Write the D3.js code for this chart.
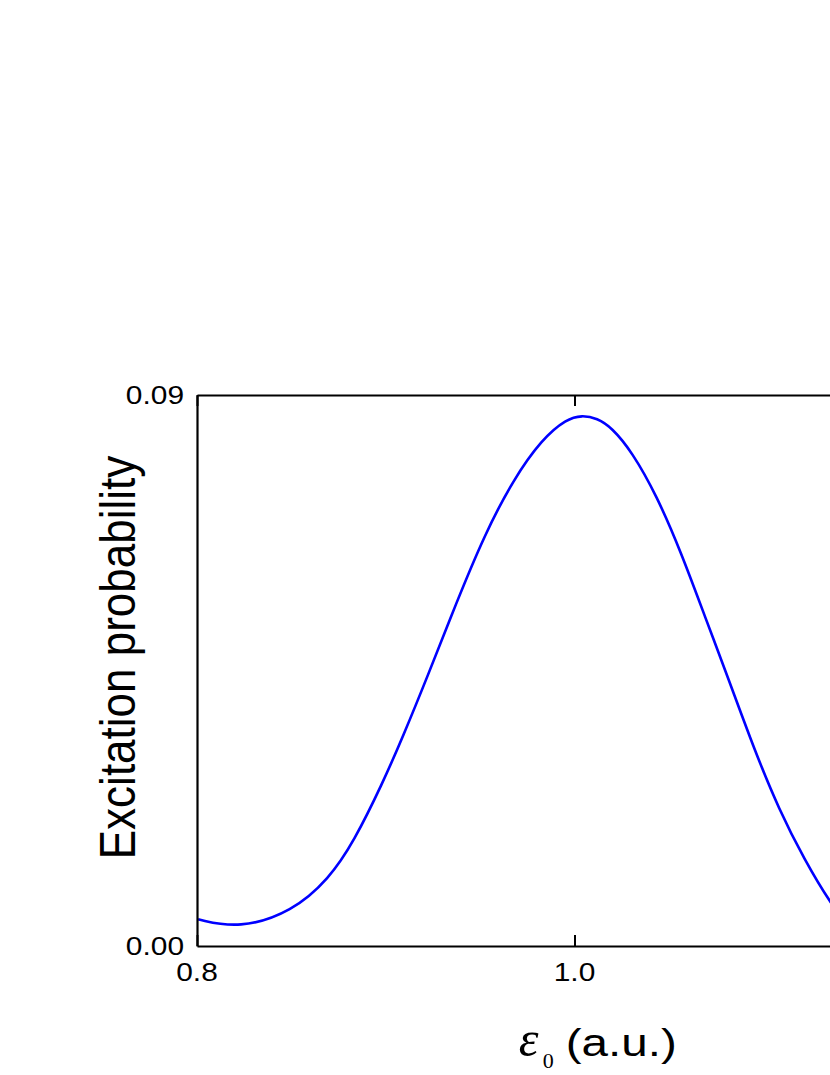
<!DOCTYPE html>
<html>
<head>
<meta charset="utf-8">
<script src="https://cdn.jsdelivr.net/npm/d3@7"></script>
<style>
  body { margin: 0; background: #fff; }
  svg { display: block; }
</style>
</head>
<body>
<svg id="chart"></svg>
<script>
// field amplitude (a.u.) and excitation probability
const energy = [0.8006, 0.8223, 0.8505, 0.8700, 0.8830, 0.8982, 0.9091, 0.9221, 0.9373, 0.9525,
  0.9676, 0.9828, 0.9958, 1.0040, 1.0120, 1.0197, 1.0305, 1.0435, 1.0565, 1.0696, 1.0815,
  1.0956, 1.1085, 1.1216, 1.1363, 1.1450];
const prob = [0.00436, 0.00280, 0.00560, 0.0110, 0.0170, 0.0265, 0.0342, 0.0440, 0.0560, 0.0673,
  0.0762, 0.0828, 0.0861, 0.0867, 0.0862, 0.0847, 0.0807, 0.0736, 0.0643, 0.0534, 0.0437,
  0.0318, 0.0222, 0.0142, 0.0066, 0.0035];
const xTicks = [0.8, 1.0, 1.2];
const xLabels = [0.8, 1.0];
const yTicks = [0.00, 0.09];

const width = 830;
const height = 1075;
const margin = { top: 395, right: -122, bottom: 129, left: 197 };
const chartWidth = width - margin.left - margin.right;
const chartHeight = height - margin.top - margin.bottom;

const svg = d3.select('#chart').attr('width', width).attr('height', height);

const x = d3.scaleLinear().domain([0.8, 1.2]).range([0, chartWidth]);
const y = d3.scaleLinear().domain([0, 0.09]).range([chartHeight, 0]);

const g = svg.append('g').attr('transform', `translate(${margin.left},${margin.top})`);

g.append('clipPath').attr('id', 'clip')
  .append('rect').attr('width', chartWidth).attr('height', chartHeight);

// curve
g.append('path')
  .datum(energy.map((e, i) => [e, prob[i]]))
  .attr('clip-path', 'url(#clip)')
  .attr('fill', 'none')
  .attr('stroke', '#0000ff')
  .attr('stroke-width', 2.6)
  .attr('d', d3.line().x(d => x(d[0])).y(d => y(d[1])).curve(d3.curveBasis));

// inward ticks, labels only on bottom/left
const fmtX = d3.format('.1f');
const fmtY = d3.format('.2f');

g.append('g')
  .attr('transform', `translate(0,${chartHeight})`)
  .call(d3.axisBottom(x).tickValues(xTicks).tickSizeInner(-11).tickSizeOuter(0).tickFormat(''));
g.append('g')
  .call(d3.axisTop(x).tickValues(xTicks).tickSizeInner(-11).tickSizeOuter(0).tickFormat(''));
g.append('g')
  .call(d3.axisLeft(y).tickValues(yTicks).tickSizeInner(0).tickSizeOuter(0).tickFormat(''));
g.append('g')
  .attr('transform', `translate(${chartWidth},0)`)
  .call(d3.axisRight(y).tickValues(yTicks).tickSizeInner(0).tickSizeOuter(0).tickFormat(''));

g.selectAll('.domain').attr('stroke', '#000').attr('stroke-width', 2.2);
g.selectAll('.tick line').attr('stroke', '#000').attr('stroke-width', 2);

const font = 'Liberation Sans, Arial, sans-serif';
const serif = 'Liberation Serif, Times New Roman, serif';

// tick labels (glyphs are a little wide in the source, so stretch horizontally)
g.selectAll('.xlab')
  .data(xLabels)
  .enter()
  .append('text')
  .attr('transform', d => `translate(${x(d)},${chartHeight + 35}) scale(1.15,1)`)
  .attr('text-anchor', 'middle')
  .style('font-family', font)
  .style('font-size', '26px')
  .text(d => fmtX(d));

g.selectAll('.ylab')
  .data(yTicks)
  .enter()
  .append('text')
  .attr('transform', d => `translate(-13,${y(d) + 9}) scale(1.15,1)`)
  .attr('text-anchor', 'end')
  .style('font-family', font)
  .style('font-size', '26px')
  .text(d => fmtY(d));

// axis titles
g.append('text')
  .attr('transform', `translate(-62,${chartHeight / 2 - 13}) rotate(-90) scale(1,1.12)`)
  .attr('text-anchor', 'middle')
  .style('font-family', font)
  .style('font-size', '44px')
  .text('Excitation probability');

const xTitleY = chartHeight + 110;
g.append('text')
  .attr('x', x(0.9) + 133)
  .attr('y', xTitleY)
  .style('font-family', serif)
  .style('font-style', 'italic')
  .style('font-size', '50px')
  .text('\u03b5');
g.append('text')
  .attr('x', x(0.9) + 157)
  .attr('y', xTitleY + 12)
  .style('font-family', serif)
  .style('font-size', '22px')
  .text('0');
g.append('text')
  .attr('transform', `translate(${x(0.9) + 180},${xTitleY}) scale(1.22,1)`)
  .style('font-family', font)
  .style('font-size', '39px')
  .text('(a.u.)');
</script>
</body>
</html>
